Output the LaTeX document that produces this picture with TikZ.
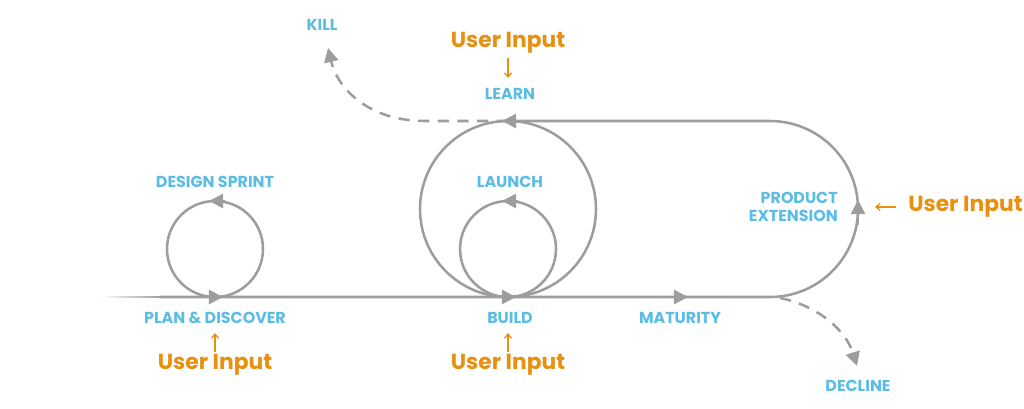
\documentclass[tikz,border=0pt]{standalone}
\usepackage{fontspec}
\setmainfont{Poppins}
\usetikzlibrary{arrows.meta}
\definecolor{linegray}{HTML}{9D9D9D}
\definecolor{stageblue}{HTML}{5BBDE4}
\definecolor{inputorange}{HTML}{E8900F}
\tikzset{
    flow/.style={draw=linegray,line width=1.8pt},
    flowtip/.style={flow,-{Triangle[length=10pt,width=10pt]}},
    dashflow/.style={flow,dash pattern=on 8pt off 6pt,-{Triangle[length=10pt,width=10pt]}},
    stage/.style={text=stageblue,font=\bfseries\fontsize{11.3}{13}\selectfont,align=center,inner sep=0pt},
    userinput/.style={text=inputorange,font=\bfseries\fontsize{15.5}{17}\selectfont,inner sep=0pt},
    inputtip/.style={draw=inputorange,line width=0.9pt,-{Straight Barb[length=3pt,width=5pt]}}
}
\begin{document}
\begin{tikzpicture}[x=0.25mm,y=-0.25mm]
\useasboundingbox (0,0) rectangle (1024,408);
    %Puntos clave
    \coordinate (start) at (160,297);
    \coordinate (plan) at (215,297);
    \coordinate (build) at (508,297);
    \coordinate (bend) at (770,297);
    \coordinate (learnpt) at (508,121);
    \coordinate (killend) at (328,48);
    \coordinate (declineend) at (857,366);

    %Linea principal con desvanecido
    \shade[left color=white,right color=linegray] (100,296.1) rectangle (161,297.9);
    \draw[flow] (start) -- (bend) arc[start angle=90,end angle=-90,radius=88] -- (learnpt);

    %Ciclos
    \draw[flow] (215,249) circle[radius=48];
    \draw[flow] (508,209) circle[radius=88];
    \draw[flow] (508,249) circle[radius=48];

    %Flechas sobre las lineas
    \foreach \x in {215,508,680}{
        \draw[flowtip] (\x-12,297) -- (\x+8,297);
    }
    \foreach \x/\y in {215/201,508/201,508/121}{
        \draw[flowtip] (\x+10,\y) -- (\x-6,\y);
    }
    \draw[flowtip] (858,225) -- (858,200);

    %Salidas punteadas
    \draw[dashflow] (learnpt) -- (425,121) .. controls (370,121) and (338,90) .. (killend);
    \draw[dashflow] (780,298) .. controls (815,305) and (845,328) .. (declineend);

    %Etapas
    \node[stage] (kill) at (322,25) {KILL};
    \node[stage] (learn) at (510,94) {LEARN};
    \node[stage] (sprint) at (215,182) {DESIGN SPRINT};
    \node[stage] (launch) at (510,182) {LAUNCH};
    \node[stage,align=right,anchor=east] (extension) at (838,207) {PRODUCT\\EXTENSION};
    \node[stage] (discover) at (215,318) {PLAN \& DISCOVER};
    \node[stage] (buildlbl) at (510,318) {BUILD};
    \node[stage] (maturity) at (680,318) {MATURITY};
    \node[stage] (decline) at (858,386) {DECLINE};

    %Entradas de usuario
    \node[userinput] (uilearn) at (508,43) {User Input};
    \node[userinput] (uiplan) at (215,365) {User Input};
    \node[userinput] (uibuild) at (508,365) {User Input};
    \node[userinput,anchor=west] (uiext) at (908,207) {User Input};
    \draw[inputtip] (uilearn) ++(0,15) -- ++(0,20);
    \draw[inputtip] (uiplan) ++(0,-13) -- ++(0,-19);
    \draw[inputtip] (uibuild) ++(0,-13) -- ++(0,-19);
    \draw[inputtip] (uiext.west) ++(-12,0) -- ++(-21,0);
\end{tikzpicture}
\end{document}
